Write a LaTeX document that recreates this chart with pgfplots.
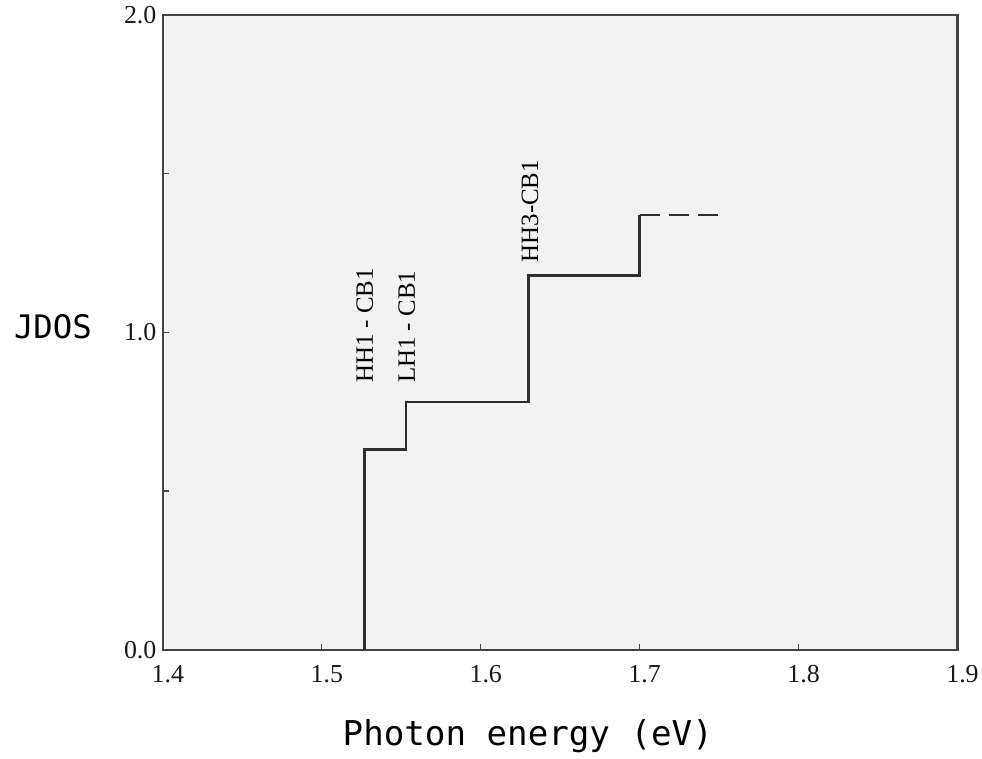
\documentclass[border=0pt]{standalone}
\usepackage{fontspec}
\setmainfont{Liberation Serif}
\newfontfamily\monofont{DejaVu Sans Mono}
\usepackage{pgfplots}
\pgfplotsset{compat=1.18}
\definecolor{bgc}{HTML}{F2F2F2}
\definecolor{axc}{HTML}{444444}
\definecolor{lnc}{HTML}{2E2E2E}
\begin{document}
\begin{tikzpicture}
\begin{axis}[
  scale only axis,
  width=795bp, height=635bp,
  xmin=1.4, xmax=1.9, ymin=0, ymax=2.0,
  axis background/.style={fill=bgc},
  axis line style={axc, line width=2.2bp},
  xtick={1.4,1.5,1.6,1.7,1.8,1.9},
  xticklabels={1.4,1.5,1.6,1.7,1.8,1.9},
  ytick={0,0.5,1.0,1.5,2.0},
  yticklabels={0.0,,1.0,,2.0},
  xtick pos=lower, ytick pos=left,
  tick align=inside,
  major tick length=6bp,
  tick style={axc, line width=1.1bp},
  ticklabel style={font=\fontsize{26}{30}\selectfont, text=black!90},
  xticklabel style={yshift=-12bp, xshift=5bp},
  yticklabel style={xshift=-3bp},
  clip=false,
]
\addplot[lnc, line width=2.6bp] coordinates {
  (1.527,0) (1.527,0.63) (1.553,0.63) (1.553,0.78)
  (1.630,0.78) (1.630,1.18) (1.700,1.18) (1.700,1.37)
};
\addplot[lnc, line width=2.6bp, dash pattern=on 20bp off 9bp] coordinates {
  (1.700,1.37) (1.7508,1.37)
};
\node[rotate=90, anchor=west, inner sep=0pt, font=\fontsize{25}{30}\selectfont] at (axis cs:1.527,0.84) {HH1 - CB1};
\node[rotate=90, anchor=west, inner sep=0pt, font=\fontsize{25}{30}\selectfont] at (axis cs:1.5535,0.84) {LH1 - CB1};
\node[rotate=90, anchor=west, inner sep=0pt, font=\fontsize{25}{30}\selectfont] at (axis cs:1.631,1.22) {HH3-CB1};
\node[xshift=-110bp, font=\monofont\fontsize{32.5}{38}\selectfont] at (axis cs:1.4,1.017) {JDOS};
\node[yshift=-87bp, font=\monofont\fontsize{34.3}{40}\selectfont] at (axis cs:1.6296,0) {Photon energy (eV)};
\coordinate (ll) at (rel axis cs:0,0);
\end{axis}
\path ([xshift=-163bp,yshift=-109bp]ll) rectangle ([xshift=819bp,yshift=650bp]ll);
\end{tikzpicture}
\end{document}
